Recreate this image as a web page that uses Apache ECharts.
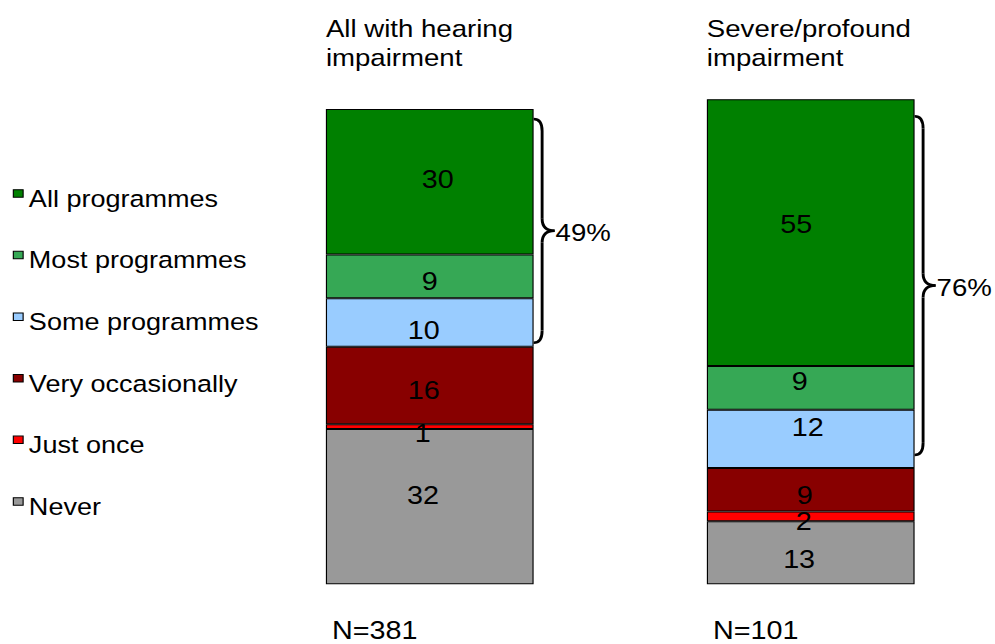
<!DOCTYPE html>
<html>
<head>
<meta charset="utf-8">
<script src="https://cdn.jsdelivr.net/npm/echarts@6/dist/echarts.min.js"></script>
<style>
  html, body { margin: 0; padding: 0; background: #fff; overflow: hidden; width: 995px; height: 644px; }
  /* the chart is laid out in a narrower box and widened, which gives the broad lettering */
  #chart { width: 880px; height: 644px; transform: scaleX(1.15029); transform-origin: 0 0; }
</style>
</head>
<body>
<div id="chart"></div>
<script>
// ---- data ----
const categories = ['All with hearing\nimpairment', 'Severe/profound\nimpairment'];
const sampleSizes = ['N=381', 'N=101'];
const legendOrder = ['All programmes', 'Most programmes', 'Some programmes', 'Very occasionally', 'Just once', 'Never'];

const allProgrammes    = [30, 55];
const mostProgrammes   = [9, 9];
const someProgrammes   = [10, 12];
const veryOccasionally = [16, 9];
const justOnce         = [1, 2];
const never            = [32, 13];

// ---- styling ----
const SX = 995 / 865;          // horizontal widening of the chart box
const BAR_W = 180.6;
const FONT = '"Liberation Sans", Arial, sans-serif';

const colors = {
  'All programmes': '#008000',
  'Most programmes': '#36a855',
  'Some programmes': '#99ccff',
  'Very occasionally': '#880000',
  'Just once': '#ff0000',
  'Never': '#999999'
};

// small per-label nudges [dx, dy] in screen px, one pair per bar
const labelNudge = {
  'All programmes':    [[8, -2],   [-14.5, -8.5]],
  'Most programmes':   [[0, 5],    [-11, -6]],
  'Some programmes':   [[-6, 8.5], [-3, -11.6]],
  'Very occasionally': [[-6, 5],   [-6, 5.6]],
  'Just once':         [[-7, 6.5], [-7, 5.3]],
  'Never':             [[-6.7, -11], [-11.6, 6.4]]
};

// bottom of the stack first
const stackOrder = [
  ['Never', never],
  ['Just once', justOnce],
  ['Very occasionally', veryOccasionally],
  ['Some programmes', someProgrammes],
  ['Most programmes', mostProgrammes],
  ['All programmes', allProgrammes]
];

const series = stackOrder.map(([name, vals]) => ({
  name: name,
  type: 'bar',
  stack: 'total',
  barWidth: BAR_W,
  itemStyle: { color: colors[name], borderColor: '#000', borderWidth: 1 },
  label: { show: true, position: 'inside', color: '#000', fontSize: 25, fontFamily: FONT },
  emphasis: { disabled: true },
  data: vals.map((v, i) => ({
    value: v,
    label: { offset: [labelNudge[name][i][0] / SX, labelNudge[name][i][1]] }
  }))
}));

const chart = echarts.init(document.getElementById('chart'), null, { renderer: 'svg' });

chart.setOption({
  animation: false,
  backgroundColor: '#fff',
  grid: { left: 208, width: 662.4, top: 99.3, height: 485 },
  xAxis: {
    type: 'category',
    data: categories,
    axisLine: { show: false },
    axisTick: { show: false },
    axisLabel: { show: false }
  },
  yAxis: { type: 'value', min: 0, max: 100, show: false },
  legend: {
    orient: 'vertical',
    left: 11.1,
    top: 186.5,
    padding: 0,
    itemGap: 37.6,
    itemWidth: 8.5,
    itemHeight: 17.6,
    icon: 'path://M0,0H8.5V7.5H0ZM0,17.6',
    itemStyle: { borderColor: '#000', borderWidth: 1 },
    selectedMode: false,
    textStyle: { fontSize: 23.5, fontFamily: FONT, color: '#000', lineHeight: 24 },
    data: legendOrder
  },
  series: series
});

// headings, sample sizes and the braces with their combined share
const braceInset = [[10, 4], [17, 13]];
const braceStyle = { stroke: '#000', lineWidth: 2.5, fill: null };
const elements = [];

function curve(x1, y1, cx, cy, x2, y2) {
  return { type: 'bezierCurve', silent: true,
    shape: { x1: x1, y1: y1, cpx1: cx, cpy1: cy, x2: x2, y2: y2 }, style: braceStyle };
}
function segment(x1, y1, x2, y2) {
  return { type: 'line', silent: true,
    shape: { x1: x1, y1: y1, x2: x2, y2: y2 }, style: braceStyle };
}

categories.forEach((cat, i) => {
  const lower = never[i] + justOnce[i] + veryOccasionally[i];
  const upper = someProgrammes[i] + mostProgrammes[i] + allProgrammes[i];
  const total = lower + upper;
  const top = chart.convertToPixel({ gridIndex: 0 }, [i, total]);
  const low = chart.convertToPixel({ gridIndex: 0 }, [i, lower]);
  const cx = top[0];
  const xl = cx - BAR_W / 2;
  const xr = cx + BAR_W / 2;

  elements.push({
    type: 'text', x: xl, y: 14, silent: true,
    style: {
      text: cat, font: '24px ' + FONT, lineHeight: 29, fill: '#000',
      align: 'left', verticalAlign: 'top', textAlign: 'left', textVerticalAlign: 'top'
    }
  });

  elements.push({
    type: 'text', x: cx - 55 / SX, y: 631, silent: true,
    style: {
      text: sampleSizes[i], font: '25px ' + FONT, fill: '#000',
      align: 'center', verticalAlign: 'middle', textAlign: 'center', textVerticalAlign: 'middle'
    }
  });

  const yt = top[1] + braceInset[i][0];
  const yb = low[1] - braceInset[i][1];
  const ym = (yt + yb) / 2;
  const xs = xr + 8.5 / SX;
  const xt = xr + 21 / SX;
  const r = 12;
  elements.push(curve(xr, yt, xs, yt, xs, yt + r));
  elements.push(segment(xs, yt + r, xs, ym - r));
  elements.push(curve(xs, ym - r, xs, ym, xt, ym));
  elements.push(curve(xt, ym, xs, ym, xs, ym + r));
  elements.push(segment(xs, ym + r, xs, yb - r));
  elements.push(curve(xs, yb - r, xs, yb, xr, yb));

  elements.push({
    type: 'text', x: xt + 1 / SX, y: ym + 2, silent: true,
    style: {
      text: upper + '%', font: '24px ' + FONT, fill: '#000',
      align: 'left', verticalAlign: 'middle', textAlign: 'left', textVerticalAlign: 'middle'
    }
  });
});

chart.setOption({ graphic: { elements: elements } });
</script>
</body>
</html>
